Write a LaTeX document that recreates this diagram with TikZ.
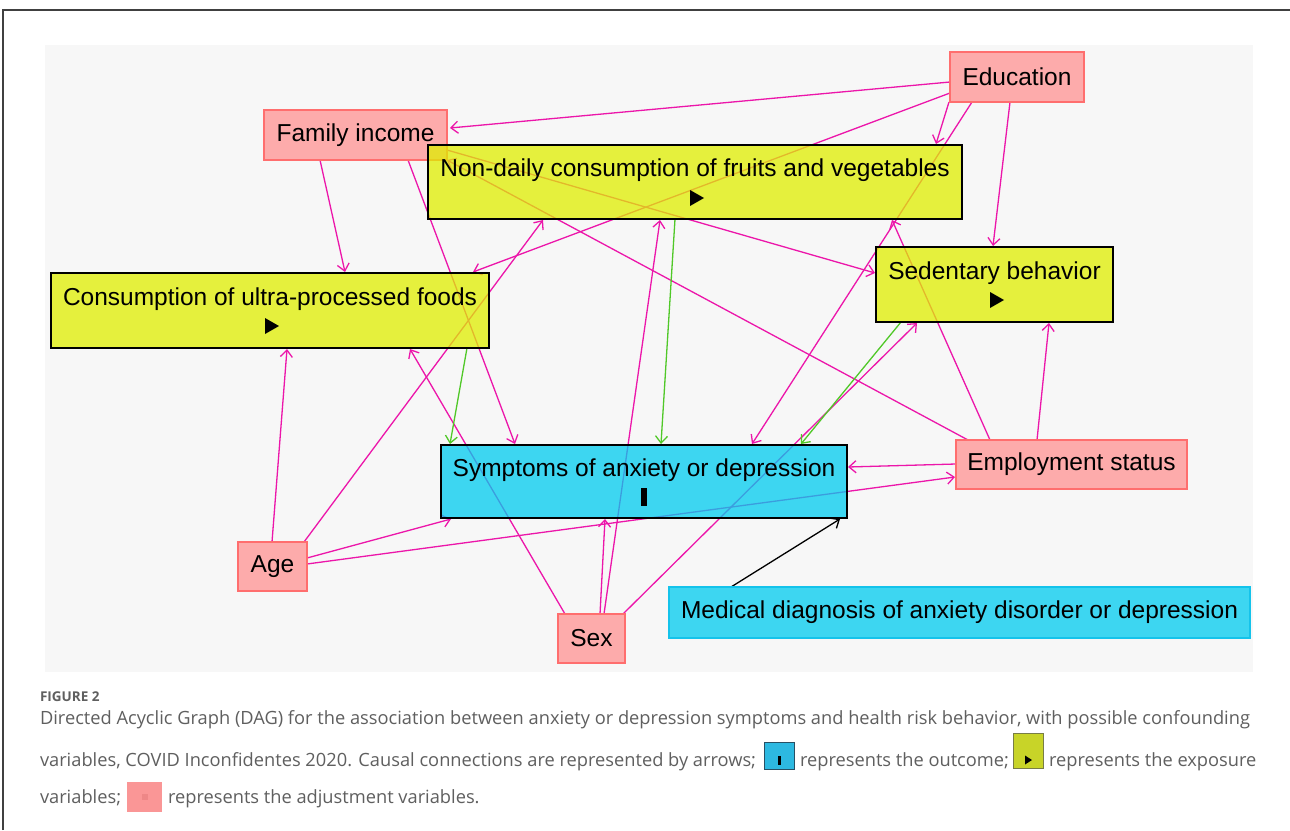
\documentclass[tikz,border=0pt]{standalone}
\usepackage{fontspec}
\setmainfont{Liberation Sans}
\newfontfamily\capfont{Open Sans}
\usetikzlibrary{arrows.meta,calc}
\pgfdeclarelayer{bg}
\pgfdeclarelayer{edges}
\pgfsetlayers{bg,edges,main}
\definecolor{pinkfill}{RGB}{255,153,153}
\definecolor{pinkline}{RGB}{255,110,110}
\definecolor{yelfill}{RGB}{224,238,0}
\definecolor{cyanfill}{RGB}{0,203,240}
\definecolor{cyanline}{RGB}{20,195,235}
\definecolor{mag}{RGB}{236,22,170}
\definecolor{grn}{RGB}{80,200,40}
\definecolor{panel}{RGB}{247,247,247}
\definecolor{capgray}{RGB}{95,95,95}
\definecolor{icocyan}{RGB}{45,185,225}
\definecolor{icocyanl}{RGB}{40,80,100}
\definecolor{icoyel}{RGB}{200,212,40}
\definecolor{icoyell}{RGB}{120,125,70}
\definecolor{icopink}{RGB}{250,150,150}
\definecolor{icopinkd}{RGB}{238,135,135}
\newsavebox\capbox
\newdimen\capw
\newcommand\captxt[1]{\scalebox{\capk}{\capfont\fontsize{18}{22}\selectfont #1}}
\tikzset{
  nbox/.style={rectangle, inner sep=0pt, outer sep=0pt, text opacity=1,
    font=\fontsize{24.5}{28}\selectfont, align=center},
  adj/.style={nbox, fill=pinkfill, fill opacity=0.8, draw=pinkline, line width=2pt},
  expo/.style={nbox, fill=yelfill, fill opacity=0.75, draw=black, line width=2.5pt},
  outc/.style={nbox, fill=cyanfill, fill opacity=0.75, draw=black, line width=2pt},
  medbox/.style={nbox, fill=cyanfill, fill opacity=0.75, draw=cyanline, line width=1.5pt},
  marrow/.style={draw=mag, line width=1.3pt, -{Straight Barb[length=7pt,width=12pt]}},
  garrow/.style={marrow, draw=grn},
  karrow/.style={marrow, draw=black},
  capt/.style={inner sep=0pt, outer sep=0pt, text=capgray, anchor=base west},
  icon/.style={inner sep=0pt, outer sep=0pt}
}
\begin{document}
\sbox\capbox{\color{capgray}\capfont\fontsize{18}{22}\selectfont Directed Acyclic Graph (DAG) for the association between anxiety or depression symptoms and health risk behavior, with possible confounding}%
\global\capw=\wd\capbox
\pgfmathsetmacro\capk{1210pt/\capw}%
\begin{tikzpicture}[x=1pt,y=-1pt]
\useasboundingbox (0,0) rectangle (1290,830);
\begin{pgfonlayer}{bg}
\fill[white] (0,0) rectangle (1290,830);
\fill[panel] (45,45) rectangle (1253,672);
\end{pgfonlayer}
\draw[line width=1.5pt, black!75] (3,830) -- (3,10) -- (1290,10);

% nodes
\node[adj, minimum width=134pt, minimum height=50pt] (edu) at (1017,77) {Education};
\node[adj, minimum width=183pt, minimum height=50pt] (fi) at (355.5,135) {Family income};
\node[expo, minimum width=534pt, minimum height=74pt] (nd) at (695,182) {Non-daily consumption of fruits and vegetables\\\mbox{}};
\node[expo, minimum width=237pt, minimum height=75pt] (sed) at (994.5,284.5) {Sedentary behavior\\\mbox{}};
\node[expo, minimum width=438pt, minimum height=75pt] (upf) at (270,310.5) {Consumption of ultra-processed foods\\\mbox{}};
\node[outc, minimum width=406pt, minimum height=73pt] (sym) at (644,481.5) {Symptoms of anxiety or depression\\\mbox{}};
\node[adj, minimum width=231pt, minimum height=49pt] (emp) at (1071.5,464.5) {Employment status};
\node[adj, minimum width=69pt, minimum height=49pt] (age) at (272.5,566.5) {Age};
\node[adj, minimum width=67pt, minimum height=49pt] (sex) at (591.5,638.5) {Sex};
\node[medbox, minimum width=581pt, minimum height=51pt] (med) at (959.5,612.5) {Medical diagnosis of anxiety disorder or depression};

% markers
\fill ($(nd.center)+(-5,8)$) -- ++(0,16) -- ++(14,-8) -- cycle;
\fill ($(upf.center)+(-5,7.5)$) -- ++(0,16) -- ++(14,-8) -- cycle;
\fill ($(sed.center)+(-4.5,7.5)$) -- ++(0,16) -- ++(14,-8) -- cycle;
\fill ($(sym.center)+(-3,6.5)$) rectangle ++(6,18);

% edges
\begin{pgfonlayer}{edges}
\draw[marrow] ($(edu.north west)+(0,30)$) -- ($(fi.north west)+(186,18)$);
\draw[marrow] ($(edu.north west)+(0,41)$) -- ($(upf.north west)+(422,-1)$);
\draw[marrow] ($(edu.north west)+(-1,50)$) -- ($(nd.north west)+(508,-1)$);
\draw[marrow] ($(edu.north west)+(22,50)$) -- ($(sym.north west)+(311,-1)$);
\draw[marrow] ($(edu.north west)+(60,50)$) -- ($(sed.north west)+(117,-1)$);
\draw[marrow] ($(fi.north west)+(56,50)$) -- ($(upf.north west)+(294,-1)$);
\draw[marrow] ($(fi.north west)+(144,50)$) -- ($(sym.north west)+(74,-1)$);
\draw[marrow] ($(fi.north west)+(183,40)$) -- ($(sed.north west)+(-1,26)$);
\draw[marrow] ($(emp.north west)+(12,0)$) -- ($(fi.north west)+(183,50)$);
\draw[marrow] ($(emp.north west)+(34,0)$) -- ($(nd.north west)+(464,75)$);
\draw[marrow] ($(emp.north west)+(81,0)$) -- ($(sed.north west)+(173,76)$);
\draw[marrow] ($(emp.north west)+(0,24)$) -- ($(sym.north west)+(407,22)$);
\draw[marrow] ($(age.north west)+(34,0)$) -- ($(upf.north west)+(236,76)$);
\draw[marrow] ($(age.north west)+(66,0)$) -- ($(nd.north west)+(115,75)$);
\draw[marrow] ($(age.north west)+(69,16)$) -- ($(sym.north west)+(10,74)$);
\draw[marrow] ($(age.north west)+(69,22)$) -- ($(emp.north west)+(-1,37)$);
\draw[marrow] ($(sex.north west)+(7,0)$) -- ($(upf.north west)+(359,76)$);
\draw[marrow] ($(sex.north west)+(42,0)$) -- ($(sym.north west)+(164,74)$);
\draw[marrow] ($(sex.north west)+(46,0)$) -- ($(nd.north west)+(232,75)$);
\draw[marrow] ($(sex.north west)+(65,0)$) -- ($(sed.north west)+(41,76)$);
\draw[karrow] ($(med.north west)+(62,0)$) -- ($(sym.north west)+(399,74)$);
\draw[garrow] ($(upf.north west)+(416,75)$) -- ($(sym.north west)+(9,-1)$);
\draw[garrow] ($(nd.north west)+(247,74)$) -- ($(sym.north west)+(220,-1)$);
\draw[garrow] ($(sed.north west)+(25,75)$) -- ($(sym.north west)+(360,-1)$);
\end{pgfonlayer}

% caption
\node[capt, text=capgray] (fig) at (40,701) {\capfont\bfseries\fontsize{13.5}{15}\selectfont FIGURE 2};
\node[capt] (l1) at (40,724) {\scalebox{\capk}{\usebox\capbox}};
\node[capt] (l2a) at (40,766) {\captxt{variables, COVID Inconfidentes 2020. Causal connections are represented by arrows;}};
\node[icon, fill=icocyan, draw=icocyanl, line width=1pt, minimum width=30pt, minimum height=27pt] (icout) at (779.5,755.5) {};
\fill ($(icout.center)+(-1.5,0)$) rectangle ++(3,9);
\node[capt] (l2b) at (800,766) {\captxt{represents the outcome;}};
\node[icon, fill=icoyel, draw=icoyell, line width=1pt, minimum width=30pt, minimum height=35pt] (icexp) at (1028,750.5) {};
\fill ($(icexp.center)+(-3,5)$) -- ++(0,9) -- ++(7,-4.5) -- cycle;
\node[capt] (l2c) at (1049,766) {\captxt{represents the exposure}};
\node[capt] (l3a) at (40,803) {\captxt{variables;}};
\node[icon, fill=icopink, minimum width=35pt, minimum height=30pt] (icadj) at (144.5,797) {};
\fill[icopinkd] ($(icadj.center)+(-3,-3)$) rectangle ++(6,6);
\node[capt] (l3b) at (168,803) {\captxt{represents the adjustment variables.}};
\end{tikzpicture}
\end{document}
